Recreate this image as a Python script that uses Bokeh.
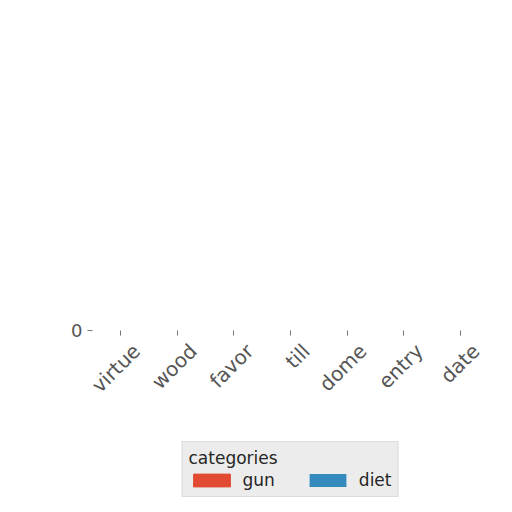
from bokeh.plotting import figure
from bokeh.models import (ColumnDataSource, Legend, LegendItem, FixedTicker,
                          Range1d, LinearAxis)
from bokeh.embed import file_html
from bokeh.resources import INLINE

# data
categories = ["virtue", "wood", "favor", "till", "dome", "entry", "date"]
gun = [0, 0, 0, 0, 0, 0, 0]
diet = [0, 0, 0, 0, 0, 0, 0]

pos = [i + 0.5 for i in range(len(categories))]
source = ColumnDataSource(data=dict(x=pos, categories=categories, gun=gun, diet=diet))

p = figure(x_range=Range1d(0, len(categories)), y_range=Range1d(-1, 1),
           width=496, height=504,
           output_backend="svg", toolbar_location=None,
           min_border_left=92, min_border_right=8,
           min_border_top=330, min_border_bottom=168)

# zero-height bars, gun drawn over diet
r_diet = p.vbar(x="x", top="diet", bottom=0, width=0.35, source=source,
                fill_color="#348ABD", line_color=None)
r_gun = p.vbar(x="x", top="gun", bottom=0, width=0.35, source=source,
               fill_color="#E24A33", line_color="#E24A33")

p.background_fill_color = "#E5E5E5"
p.outline_line_color = None
p.grid.grid_line_color = "white"
p.xgrid.grid_line_color = None

p.xaxis.ticker = FixedTicker(ticks=pos)
p.yaxis.ticker = FixedTicker(ticks=[0])
for ax in (p.xaxis, p.yaxis):
    ax.axis_line_color = None
    ax.major_tick_line_color = "#777777"
    ax.major_tick_out = 5
    ax.major_tick_in = 0
    ax.minor_tick_line_color = None
    ax.major_label_text_color = "#555555"
    ax.major_label_text_font = "DejaVu Sans"
p.yaxis.major_label_text_font_size = "18px"

# ticks from the main axis, labels from a shifted axis (centred like matplotlib)
p.xaxis.major_label_text_font_size = "1px"
p.xaxis.major_label_text_color = None
p.xaxis.major_label_standoff = 0
p.extra_x_ranges = {"lab": Range1d(-0.28, len(categories) - 0.28)}
lab_axis = LinearAxis(x_range_name="lab", ticker=FixedTicker(ticks=pos),
                      major_label_overrides={x: c for x, c in zip(pos, categories)})
lab_axis.axis_line_color = None
lab_axis.major_tick_line_color = None
lab_axis.minor_tick_line_color = None
lab_axis.major_label_text_color = "#555555"
lab_axis.major_label_text_font = "DejaVu Sans"
lab_axis.major_label_text_font_size = "20px"
lab_axis.major_label_orientation = 0.785
lab_axis.major_label_standoff = 6
p.add_layout(lab_axis, "below")

legend = Legend(items=[LegendItem(label="gun", renderers=[r_gun]),
                       LegendItem(label="diet", renderers=[r_diet])],
                title="categories", orientation="horizontal", location="center")
legend.title_text_font = "DejaVu Sans"
legend.title_text_font_size = "17px"
legend.title_text_font_style = "normal"
legend.title_text_color = "#262626"
legend.title_standoff = 2
legend.label_text_font = "DejaVu Sans"
legend.label_text_font_size = "17px"
legend.label_text_color = "#262626"
legend.glyph_width = 46
legend.glyph_height = 16
legend.spacing = 30
legend.label_standoff = 8
legend.padding = 6
legend.background_fill_color = "#EBEBEB"
legend.border_line_color = "#CCCCCC"
legend.margin = 4
p.add_layout(legend, "below")

open("out.html", "w").write(file_html(p, INLINE))
